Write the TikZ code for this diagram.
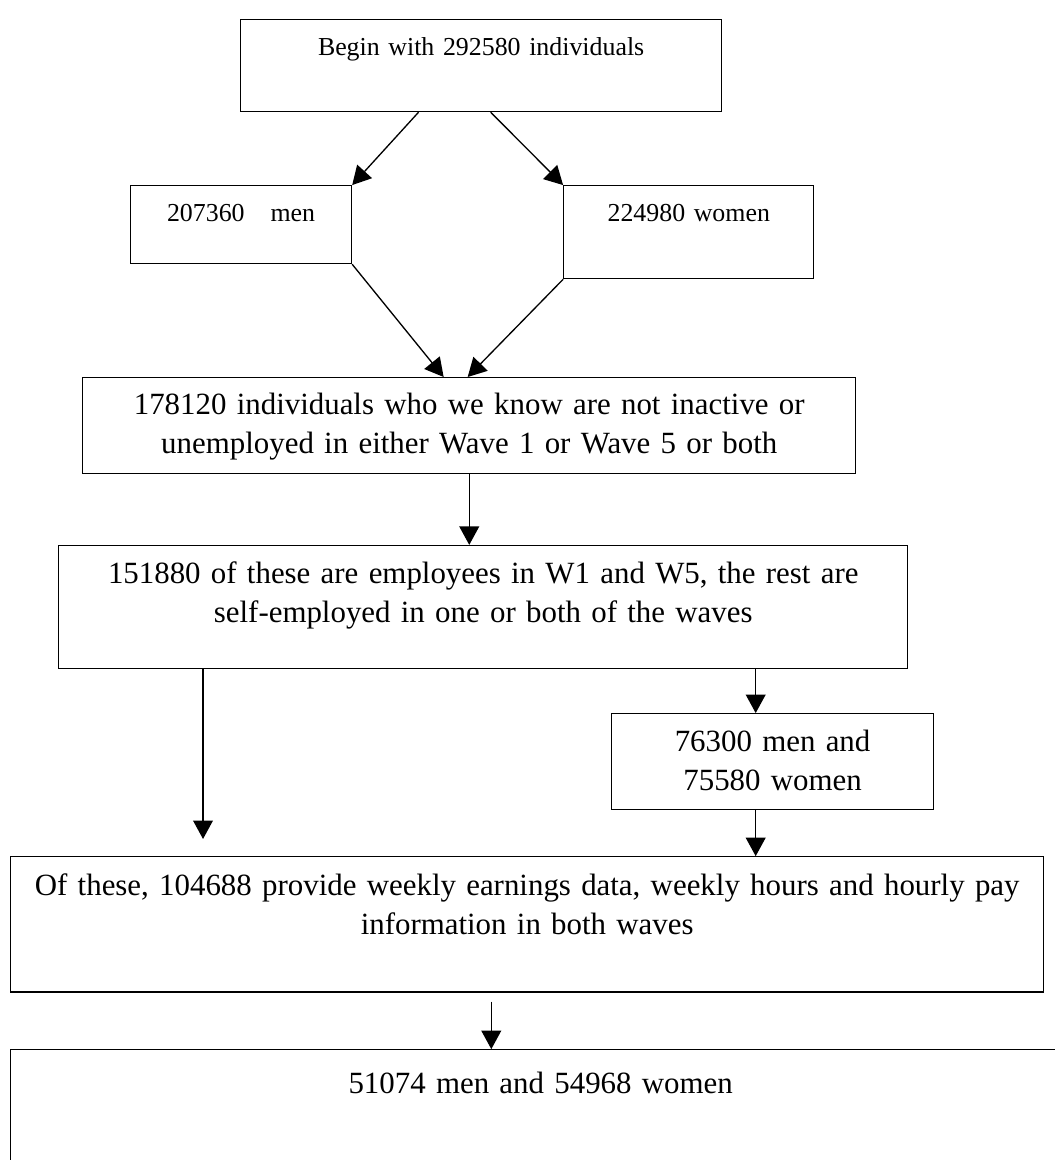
\documentclass[tikz,border=0pt]{standalone}
\usepackage{fontspec}
\setmainfont{Liberation Serif}
\usetikzlibrary{arrows.meta,calc}

\begin{document}
\begin{tikzpicture}[x=1pt,y=-1pt,
  box/.style={draw,line width=0.5pt,inner sep=0pt,anchor=north west,align=center},
  small/.style={box,font=\fontsize{9.8pt}{12pt}\selectfont},
  big/.style={box,font=\fontsize{11.7pt}{14.6pt}\selectfont},
  arr/.style={line width=0.5pt,-{Triangle[length=7pt,width=7.5pt]}}]
\useasboundingbox (0,0) rectangle (399.6,439.4);
\clip (0,0) rectangle (399.6,439.4);
\node [small,text width=182.2pt,text height=13.6pt,text depth=21.2pt] (begin) at (90.9,7.2) {Begin with 292580 individuals};
\node [small,text width=83.7pt,text height=13.6pt,text depth=15.9pt] (men) at (49.2,70.1) {207360\hspace{1em}men};
\node [small,text width=94.7pt,text height=13.6pt,text depth=21.6pt] (women) at (213.3,70.1) {224980 women};
\node [big,text width=292.8pt,text height=14pt,text depth=22.3pt] (known) at (31.1,142.8)
  {178120 individuals who we know are not inactive or\\ unemployed in either Wave 1 or Wave 5 or both};
\node [big,text width=321.6pt,text height=14.4pt,text depth=32.2pt] (employ) at (22,206.4)
  {151880 of these are employees in W1 and W5, the rest are\\ self-employed in one or both of the waves};
\node [big,text width=122pt,text height=14.4pt,text depth=22pt] (split) at (231.4,270.1)
  {76300 men and\\ 75580 women};
\node [big,text width=391.3pt,text height=14.8pt,text depth=36.4pt] (ofthese) at (3.8,324.3)
  {Of these, 104688 provide weekly earnings data, weekly hours and hourly pay\\ information in both waves};
\node [big,text width=401.5pt,text height=16.7pt,text depth=41.7pt] (final) at (3.8,397.4)
  {51074 men and 54968 women};
\coordinate (leftend) at (76.9,317.8);
\coordinate (sx) at ([xshift=-6.4pt]split.north);
\coordinate (fx) at ([xshift=-13.6pt]ofthese.south);
\draw[arr] ([xshift=-23.7pt]begin.south) -- (men.north east);
\draw[arr] ([xshift=3.6pt]begin.south) -- (women.north west);
\draw[arr] (men.south east) -- ([xshift=-9.7pt]known.north);
\draw[arr] (women.south west) -- ([xshift=-0.6pt]known.north);
\draw[arr] (known.south) -- (known.south |- employ.north);
\draw[arr] (employ.south -| leftend) -- (leftend);
\draw[arr] (sx |- employ.south) -- (sx);
\draw[arr] ([xshift=-6.4pt]split.south) -- (sx |- ofthese.north);
\draw[arr] ([yshift=-3.4pt]fx) -- (fx |- final.north);
\end{tikzpicture}
\end{document}
